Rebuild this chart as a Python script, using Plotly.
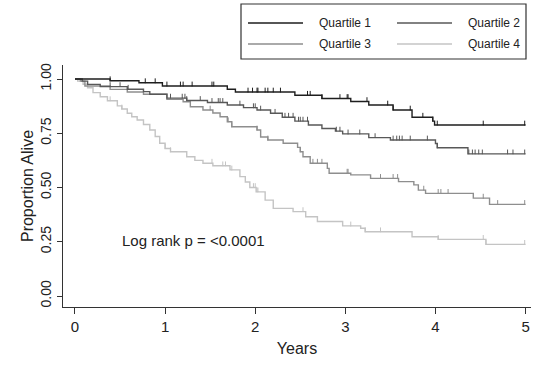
import bisect
import plotly.graph_objects as go

# ---------------- data ----------------
series_names = ["Quartile 1", "Quartile 2", "Quartile 3", "Quartile 4"]

q1_time = [0, 0.39, 0.71, 0.97, 1.69, 1.78, 2.44, 2.74, 3.06, 3.26, 3.53, 3.74, 3.97, 3.99, 5.0]
q1_surv = [1.0, 0.992, 0.983, 0.968, 0.953, 0.940, 0.925, 0.910, 0.896, 0.880, 0.857, 0.824, 0.806, 0.788, 0.788]
q1_cens = [0.39, 0.78, 0.89, 1.02, 1.17, 1.2, 1.3, 1.52, 1.54, 1.92, 1.97, 2.02, 2.03, 2.11, 2.14,
           2.2, 2.28, 2.58, 2.61, 2.74, 2.94, 3.02, 3.03, 3.24, 3.47, 3.53, 3.72, 3.86, 3.97, 4.02,
           4.53, 4.99]

q2_time = [0, 0.08, 0.14, 0.28, 0.58, 0.76, 0.83, 1.02, 1.24, 1.47, 1.69, 1.87, 2.02, 2.17, 2.30,
           2.44, 2.59, 2.74, 2.89, 2.97, 3.26, 3.50, 4.00, 4.02, 4.36, 5.0]
q2_surv = [1.0, 0.99, 0.975, 0.965, 0.953, 0.942, 0.930, 0.912, 0.901, 0.892, 0.880, 0.868, 0.857,
           0.842, 0.824, 0.806, 0.788, 0.772, 0.760, 0.747, 0.730, 0.719, 0.703, 0.683, 0.655, 0.655]
q2_cens = [0.39, 0.5, 0.59, 1.06, 1.19, 1.22, 1.24, 1.39, 1.52, 1.59, 1.61, 1.64, 1.83, 1.98, 2.0,
           2.06, 2.22, 2.33, 2.37, 2.42, 2.48, 2.5, 2.53, 2.58, 2.9, 2.94, 3.03, 3.16, 3.33, 3.53,
           3.57, 3.6, 3.63, 3.72, 3.91, 4.02, 4.37, 4.41, 4.44, 4.48, 4.52, 4.8, 4.86, 4.99]

q3_time = [0, 0.06, 0.11, 0.39, 0.58, 0.76, 1.02, 1.20, 1.28, 1.42, 1.53, 1.61, 1.69, 1.74, 2.02,
           2.06, 2.14, 2.31, 2.47, 2.50, 2.53, 2.61, 2.80, 2.82, 3.06, 3.28, 3.59, 3.76, 3.81, 3.89,
           4.42, 4.60, 5.0]
q3_surv = [1.0, 0.99, 0.968, 0.952, 0.940, 0.930, 0.906, 0.895, 0.872, 0.857, 0.843, 0.826, 0.803,
           0.780, 0.765, 0.733, 0.719, 0.704, 0.685, 0.665, 0.642, 0.612, 0.588, 0.566, 0.558,
           0.542, 0.527, 0.512, 0.488, 0.473, 0.451, 0.422, 0.422]
q3_cens = [1.5, 1.7, 1.74, 2.02, 2.14, 2.5, 2.64, 2.69, 2.74, 3.02, 3.03, 3.39, 3.53, 3.58, 3.87,
           4.03, 4.06, 4.14, 4.53, 4.69, 4.99]

q4_time = [0, 0.03, 0.09, 0.14, 0.20, 0.28, 0.36, 0.47, 0.52, 0.58, 0.63, 0.69, 0.76, 0.83, 0.89,
           0.94, 1.00, 1.06, 1.24, 1.33, 1.42, 1.53, 1.72, 1.83, 1.89, 1.94, 2.01, 2.11, 2.20, 2.42,
           2.56, 2.69, 2.97, 3.17, 3.22, 3.74, 4.03, 4.56, 5.0]
q4_surv = [1.0, 0.99, 0.976, 0.960, 0.937, 0.918, 0.900, 0.876, 0.862, 0.842, 0.826, 0.811, 0.790,
           0.765, 0.735, 0.704, 0.680, 0.665, 0.642, 0.625, 0.612, 0.600, 0.581, 0.550, 0.525,
           0.500, 0.480, 0.442, 0.404, 0.389, 0.365, 0.343, 0.323, 0.312, 0.296, 0.273, 0.261,
           0.238, 0.238]
q4_cens = [0.39, 0.52, 1.0, 1.06, 1.52, 1.64, 1.67, 1.74, 1.98, 2.0, 2.02, 2.03, 2.53, 3.06, 3.22,
           3.39, 4.03, 4.53, 4.56, 4.99]

x_ticks = [0, 1, 2, 3, 4, 5]
y_ticks = [0, 0.25, 0.5, 0.75, 1.0]
y_tick_text = ["0.00", "0.25", "0.50", "0.75", "1.00"]
annotation_text = "Log rank p = <0.0001"

# ---------------- styling ----------------
colors = ["#1e1e1e", "#585858", "#8e8e8e", "#c4c4c4"]
W, H = 534, 367
ML, MR, MT, MB = 63, 3, 65, 60
FONT = "Liberation Sans, Arial, sans-serif"

series = [(q1_time, q1_surv, q1_cens), (q2_time, q2_surv, q2_cens),
          (q3_time, q3_surv, q3_cens), (q4_time, q4_surv, q4_cens)]


def surv_at(times, surv, t):
    i = bisect.bisect_right(times, t) - 1
    return surv[max(i, 0)]


fig = go.Figure()
# draw lightest first so darker curves sit on top
for idx in reversed(range(4)):
    t, s, c = series[idx]
    fig.add_trace(go.Scatter(x=t, y=s, mode="lines", line=dict(shape="hv", color=colors[idx], width=1.4),
                             name=series_names[idx], showlegend=False, hoverinfo="skip"))
    cy = [surv_at(t, s, ct) for ct in c]
    fig.add_trace(go.Scatter(x=c, y=cy, mode="markers", marker=dict(size=1, color=colors[idx]),
                             error_y=dict(type="data", symmetric=False, array=[0.02] * len(c),
                                          arrayminus=[0] * len(c), thickness=1, width=0,
                                          color=colors[idx]),
                             showlegend=False, hoverinfo="skip"))

# ---------------- manual legend (box, line samples, real-text labels) ----------------
PW = W - ML - MR
PH = H - MT - MB


def px_x(p):
    return (p - ML) / PW


def px_y(p):
    return 1 - (p - MT) / PH


shapes = [dict(type="rect", xref="paper", yref="paper", x0=px_x(241), x1=px_x(526),
               y0=px_y(59), y1=px_y(4), line=dict(color="#333333", width=1.2), fillcolor="white")]
annotations = []
legend_pos = [(248, 23), (397, 23), (248, 44), (397, 44)]
for idx, (lx, ly) in enumerate(legend_pos):
    shapes.append(dict(type="line", xref="paper", yref="paper", x0=px_x(lx), x1=px_x(lx + 55),
                       y0=px_y(ly), y1=px_y(ly), line=dict(color=colors[idx], width=1.6)))
    annotations.append(dict(xref="paper", yref="paper", x=px_x(lx + 69), y=px_y(ly), text=series_names[idx],
                            showarrow=False, xanchor="left", yanchor="middle",
                            font=dict(size=12, color="#222222", family=FONT)))

annotations.append(dict(x=0.5, y=0.258, xref="x", yref="y", text=annotation_text, showarrow=False,
                        xanchor="left", yanchor="middle", font=dict(size=15, color="#222222", family=FONT)))

fig.update_layout(
    width=W, height=H, margin=dict(l=ML, r=MR, t=MT, b=MB),
    plot_bgcolor="white", paper_bgcolor="white",
    font=dict(family=FONT, color="#222222"),
    shapes=shapes, annotations=annotations, showlegend=False,
    xaxis=dict(range=[-0.133, 5.06], tickvals=x_ticks, ticks="outside", ticklen=6, tickcolor="#333333",
               showline=True, linecolor="#333333", linewidth=1.2, showgrid=False, zeroline=False,
               tickfont=dict(size=15), title=dict(text="Years", font=dict(size=16), standoff=8)),
    yaxis=dict(range=[-0.0507, 1.0645], tickvals=y_ticks, ticktext=y_tick_text, tickangle=-90,
               ticks="outside", ticklen=5, tickcolor="#333333", showline=True, linecolor="#333333",
               linewidth=1.2, showgrid=False, zeroline=False, tickfont=dict(size=14),
               title=dict(text="Proportion Alive", font=dict(size=16), standoff=0)),
)

fig.write_html("out.html")
